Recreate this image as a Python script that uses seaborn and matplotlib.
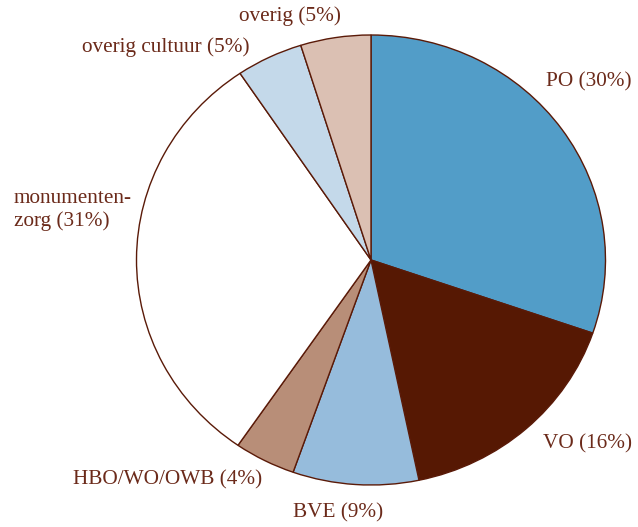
import matplotlib
matplotlib.use("Agg")
import matplotlib.pyplot as plt
import seaborn as sns

# shares in percent, clockwise from 12 o'clock
sectors = ["PO", "VO", "BVE", "HBO/WO/OWB", "monumentenzorg", "overig cultuur", "overig"]
shares = [30.27, 16.45, 8.67, 4.21, 30.97, 4.59, 4.84]
labels = ["PO (30%)", "VO (16%)", "BVE (9%)", "HBO/WO/OWB (4%)",
          "monumenten-\nzorg (31%)", "overig cultuur (5%)", "overig (5%)"]
colors = ["#529DC8", "#561803", "#96BCDC", "#B88E78", "#FFFFFF", "#C4D9EA", "#DBC0B3"]

INK = "#6B2A1A"
EDGE = "#5A1A08"

sns.set_theme(style="white")
plt.rcParams["font.family"] = ["Liberation Serif", "DejaVu Serif"]

W, H = 638, 527
# the original pie is slightly squashed vertically (rx 234.5 px, ry 225 px)
squash = 234.5 / 225
fig = plt.figure(figsize=(W / 100, H / 100), dpi=100)
ax = fig.add_axes([0, 0, 1, 1])

ax.pie(
    shares,
    colors=colors,
    startangle=90,
    counterclock=False,
    center=(371, (H - 260) * squash),
    radius=234.5,
    frame=True,
    wedgeprops={"edgecolor": EDGE, "linewidth": 1.0},
)
ax.set_xlim(0, W)
ax.set_ylim(0, H * squash)
ax.set_aspect("auto")
ax.axis("off")

# label anchors in pixel coordinates (x, y from top), alignment
label_pos = [
    (632, 82, "right"),
    (632, 444, "right"),
    (383, 513, "right"),
    (262, 480, "right"),
    (14, 210, "left"),
    (250, 47, "right"),
    (341, 16, "right"),
]
for text, (x, y, ha) in zip(labels, label_pos):
    fig.text(x / W, 1 - y / H, text, ha=ha, va="center", fontsize=15.3,
             color=INK, linespacing=1.2)

fig.savefig("out.png", dpi=100)
